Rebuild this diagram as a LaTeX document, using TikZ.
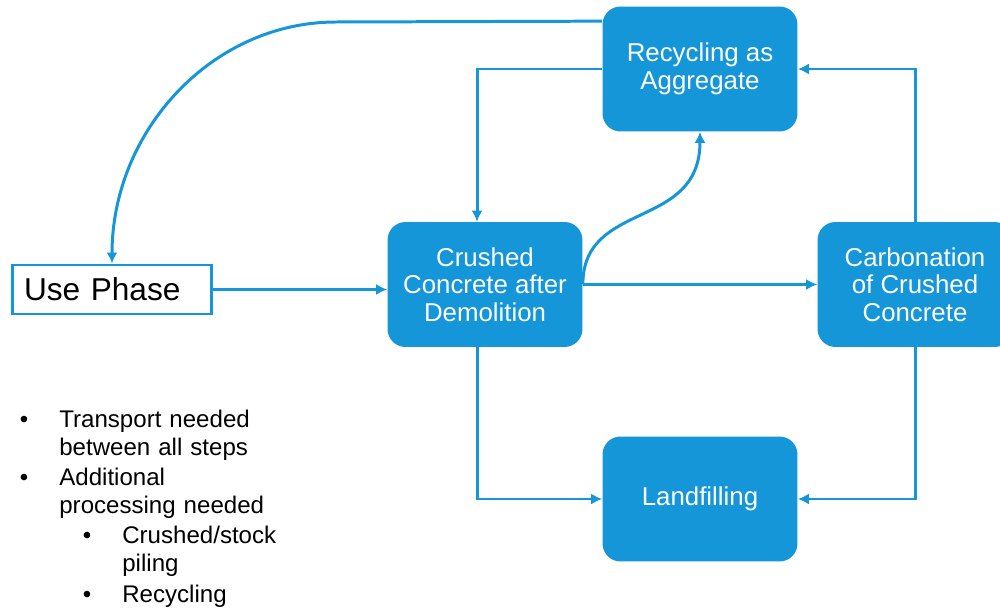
\documentclass[tikz,border=0pt]{standalone}
\usepackage{fontspec}
\setmainfont{Liberation Sans}
\usetikzlibrary{arrows.meta}
\definecolor{lcablue}{RGB}{20,150,216}

\begin{document}
\begin{tikzpicture}[x=0.02cm,y=-0.02cm,>={Latex[length=2.2mm,width=2.2mm]},
  stage/.style={rectangle,rounded corners=0.36cm,fill=lcablue,text=white,
    minimum width=3.9cm,minimum height=2.5cm,inner sep=0pt,align=center,
    font=\fontsize{14.7pt}{15.6pt}\selectfont},
  flow/.style={draw=lcablue,line width=1.7pt},
  note/.style={anchor=base west,inner sep=0pt,text width=4.5cm,align=left,
    font=\fontsize{13.7pt}{16.4pt}\selectfont},
  dot/.style={anchor=base,inner sep=0pt,font=\fontsize{13.7pt}{16.4pt}\selectfont}]
\useasboundingbox (0,0) rectangle (1000,611);
\clip (0,0) rectangle (1000,611);

% boxes
\node[draw=lcablue,line width=1.7pt,fill=white,minimum height=0.98cm,
  text width=3.52cm,inner xsep=0.24cm,align=left,
  font=\fontsize{18pt}{20pt}\selectfont] (use) at (112,289.5) {Use Phase};
\node[stage] (rec) at (700,69) {Recycling as\\Aggregate};
\node[stage] (cru) at (485,284.5) {Crushed\\Concrete after\\Demolition};
\node[stage] (car) at (915,284.5) {Carbonation\\of Crushed\\Concrete};
\node[stage] (land) at (700,499) {Landfilling};

% connectors
\coordinate (bend) at (336,22);
\draw[flow,->] ([yshift=-0.3cm]rec.north west) -- (bend)
  .. controls (212,22) and (112,131) .. (use.north);
\draw[flow,->] (use.east) -- (use.east -| cru.west);
\draw[flow,->] (rec.west) -| ([xshift=-0.16cm]cru.north);
\draw[flow,->] (cru.east) -- (car.west);
\draw[flow,->] (cru.east) .. controls +(0,-85) and +(0,99) .. (rec.south);
\draw[flow,->] (car.north) |- (rec.east);
\draw[flow,->] (car.south) |- (land.east);
\draw[flow,->] ([xshift=-0.16cm]cru.south) |- (land.west);

% notes
\foreach \y in {427,485}{
	\node[dot] (d\y) at (24,\y) {•};
}
\foreach \y in {543,602}{
	\node[dot] (s\y) at (87,\y) {•};
}
\node[note] (n1) at (59,427) {Transport needed\\between all steps};
\node[note] (n2) at (59,485) {Additional\\processing needed};
\node[note] (n3) at (122,543) {Crushed/stock\\piling};
\node[note] (n4) at (122,602) {Recycling};
\end{tikzpicture}
\end{document}
